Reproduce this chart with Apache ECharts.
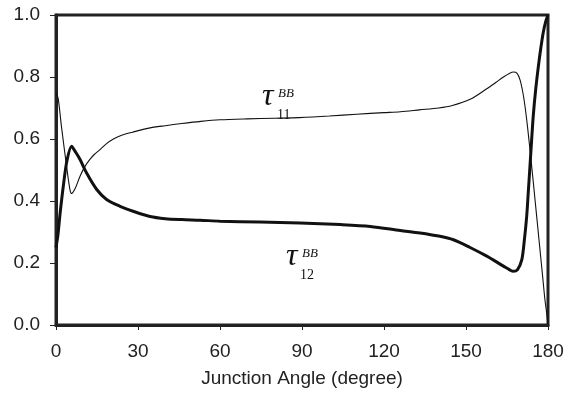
<!DOCTYPE html>
<html>
<head>
<meta charset="utf-8">
<script src="https://cdn.jsdelivr.net/npm/echarts@6/dist/echarts.min.js"></script>
<style>html,body{margin:0;padding:0;background:#fff;}#c{width:569px;height:394px;}</style>
</head>
<body>
<div id="c"></div>
<script>
var tau11X = [0, 0.8, 2, 3.9, 5.1, 5.7, 7, 8.8, 10.5, 12.4, 14, 16, 18.5, 21, 24, 28, 34, 40, 46, 53, 60, 70, 80, 89, 100, 110, 120, 126, 133, 140, 145, 151.5, 157.6, 161, 163.7, 166, 167.3, 168.7, 169.8, 170.8, 171.6, 172.5, 173.4, 174.4, 175.3, 176.2, 177.1, 178, 178.9, 179.5, 180];
var tau11Y = [0.75, 0.73, 0.64, 0.51, 0.437, 0.424, 0.44, 0.48, 0.51, 0.534, 0.55, 0.565, 0.585, 0.60, 0.612, 0.622, 0.635, 0.643, 0.650, 0.657, 0.662, 0.665, 0.667, 0.669, 0.674, 0.68, 0.685, 0.688, 0.694, 0.70, 0.708, 0.728, 0.762, 0.783, 0.80, 0.812, 0.816, 0.812, 0.79, 0.75, 0.705, 0.64, 0.566, 0.48, 0.40, 0.32, 0.24, 0.16, 0.08, 0.04, 0.0];
var tau12X = [0, 0.7, 1.5, 2.7, 4, 5.7, 7, 8.8, 11.2, 14.9, 18.5, 23.4, 28.2, 34.4, 40, 46, 52.7, 60, 74.6, 89.3, 104, 115, 126, 133.2, 140, 145.4, 151.5, 157.6, 163.7, 166, 167.3, 168.8, 170.4, 171.3, 172.2, 172.8, 173.4, 174, 174.6, 175.5, 176.5, 177.4, 178.3, 179.2, 180];
var tau12Y = [0.25, 0.29, 0.36, 0.45, 0.53, 0.577, 0.56, 0.534, 0.49, 0.437, 0.405, 0.383, 0.367, 0.35, 0.343, 0.34, 0.338, 0.335, 0.332, 0.329, 0.324, 0.318, 0.305, 0.297, 0.287, 0.275, 0.25, 0.222, 0.19, 0.178, 0.173, 0.178, 0.21, 0.27, 0.35, 0.43, 0.512, 0.595, 0.674, 0.76, 0.836, 0.895, 0.945, 0.98, 1.0];
var xTicks = [0, 30, 60, 90, 120, 150, 180];
var yTicks = [0.0, 0.2, 0.4, 0.6, 0.8, 1.0];
var xTitle = 'Junction Angle (degree)';

function pairs(xs, ys) { return xs.map(function (x, i) { return [x, ys[i]]; }); }

var chart = echarts.init(document.getElementById('c'), null, {renderer: 'canvas'});
var labelFont = {fontFamily: 'Liberation Sans, Arial, sans-serif', fontSize: 19, color: '#222'};
var serif = 'Liberation Serif, Times New Roman, serif';
chart.setOption({
  animation: false,
  grid: {left: 56, right: 21, top: 15, bottom: 69, show: true, borderColor: '#222', borderWidth: 3, backgroundColor: 'transparent'},
  xAxis: {
    type: 'value', min: xTicks[0], max: xTicks[xTicks.length - 1], interval: 30,
    name: xTitle, nameLocation: 'middle', nameGap: 44,
    nameTextStyle: labelFont,
    axisLine: {show: true, onZero: false, lineStyle: {color: '#222', width: 3}},
    axisTick: {show: true, length: 5, lineStyle: {color: '#222', width: 1}},
    axisLabel: Object.assign({margin: 17}, labelFont),
    splitLine: {show: false}
  },
  yAxis: {
    type: 'value', min: yTicks[0], max: yTicks[yTicks.length - 1], interval: 0.2,
    axisLine: {show: true, onZero: false, lineStyle: {color: '#222', width: 3}},
    axisTick: {show: true, length: 6, lineStyle: {color: '#222', width: 1}},
    axisLabel: Object.assign({margin: 16, formatter: function (v) { return v.toFixed(1); }}, labelFont),
    splitLine: {show: false}
  },
  series: [
    {name: 'tau11', type: 'line', data: pairs(tau11X, tau11Y), showSymbol: false, smooth: 0.3,
     lineStyle: {color: '#111', width: 1.1}},
    {name: 'tau12', type: 'line', data: pairs(tau12X, tau12Y), showSymbol: false, smooth: 0.3,
     lineStyle: {color: '#111', width: 3}}
  ],
  graphic: [
    {type: 'text', left: 262, top: 81, style: {text: 'τ', fontFamily: serif, fontStyle: 'italic', fontSize: 32, fill: '#111'}},
    {type: 'text', left: 278, top: 87, style: {text: 'BB', fontFamily: serif, fontStyle: 'italic', fontSize: 13, fill: '#111'}},
    {type: 'text', left: 277, top: 108, style: {text: '11', fontFamily: serif, fontSize: 14, fill: '#111'}},
    {type: 'text', left: 286, top: 241, style: {text: 'τ', fontFamily: serif, fontStyle: 'italic', fontSize: 32, fill: '#111'}},
    {type: 'text', left: 302, top: 247, style: {text: 'BB', fontFamily: serif, fontStyle: 'italic', fontSize: 13, fill: '#111'}},
    {type: 'text', left: 300, top: 268, style: {text: '12', fontFamily: serif, fontSize: 14, fill: '#111'}}
  ]
});
</script>
</body>
</html>
